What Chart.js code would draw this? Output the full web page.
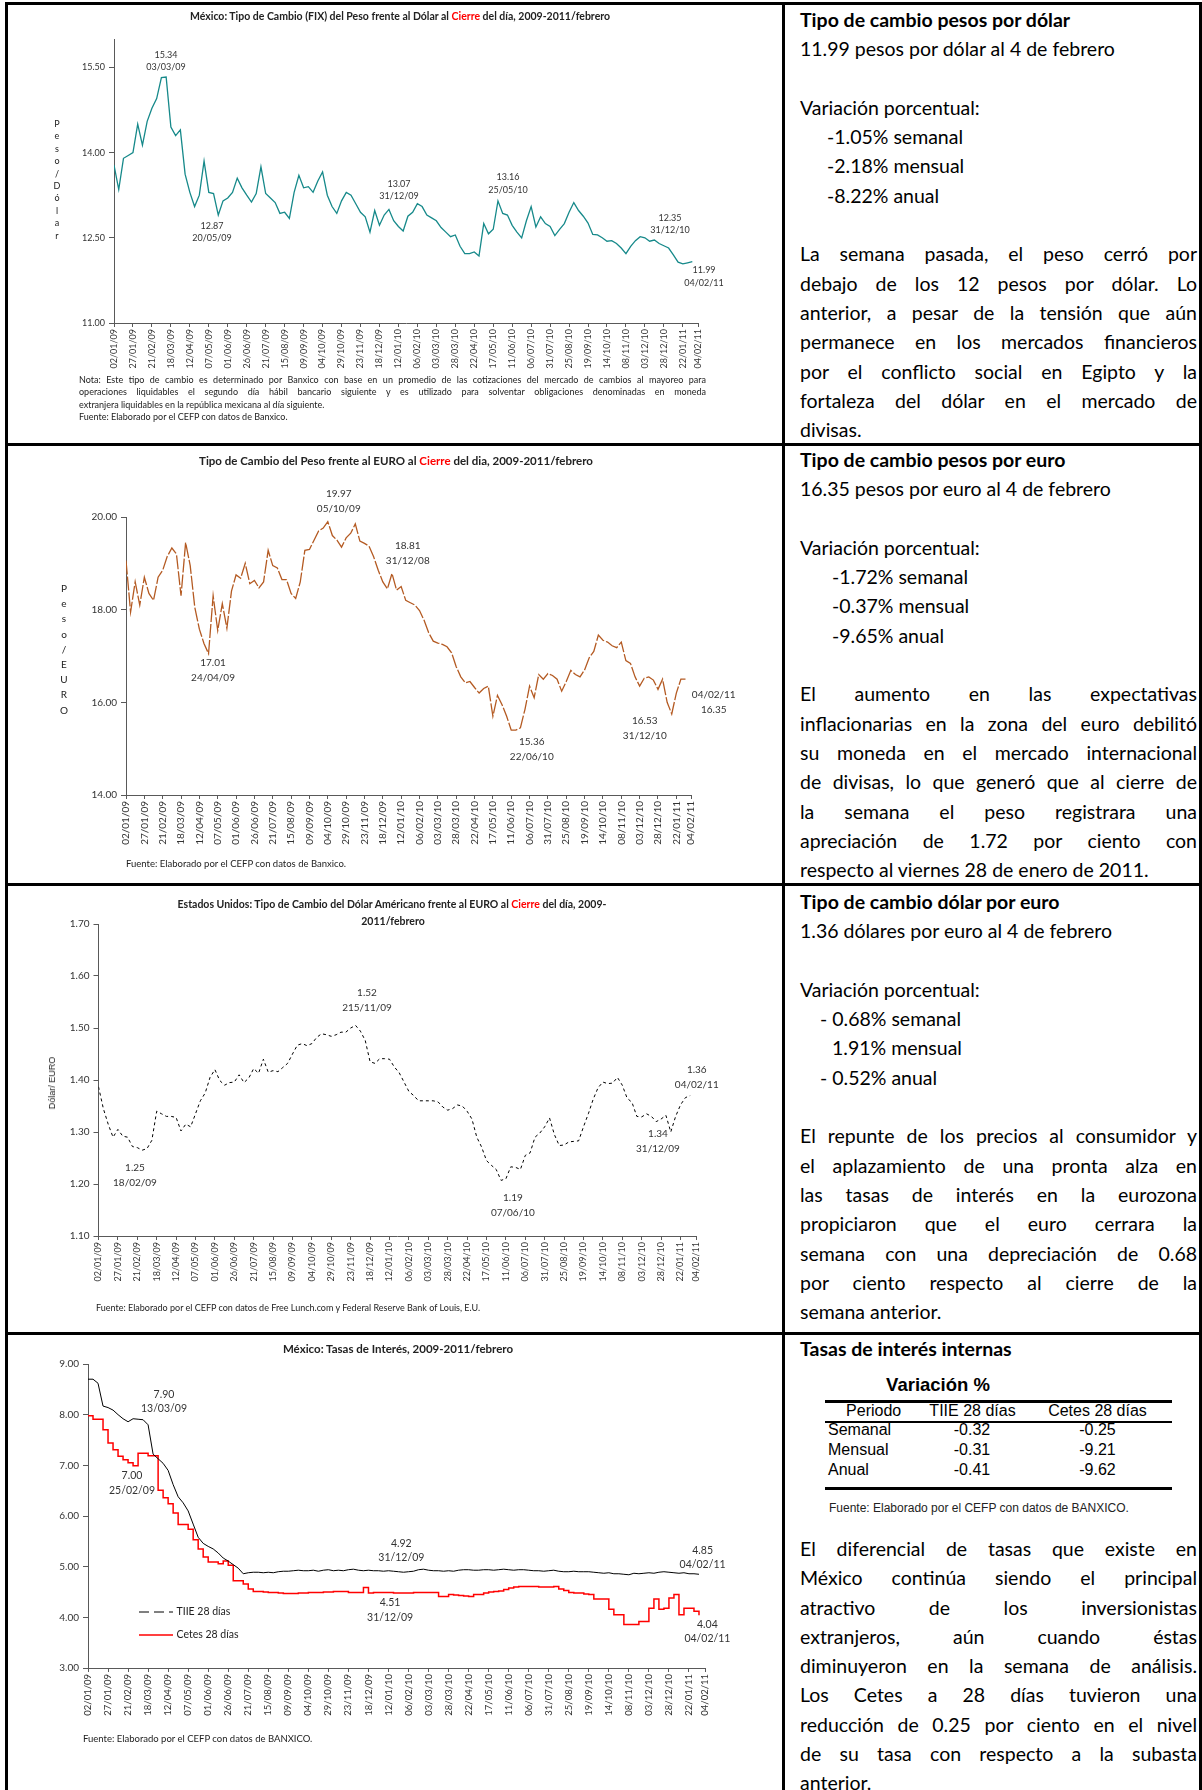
<!DOCTYPE html>
<html>
<head>
<meta charset="utf-8">
<script src="https://cdn.jsdelivr.net/npm/chart.js@4/dist/chart.umd.min.js"></script>
<style>
body { margin: 0; background: #fff; }
#page { position: relative; width: 1202px; height: 1790px; overflow: hidden; font-family: Lato, sans-serif; color: #000; }
.rule { position: absolute; background: #000; }
canvas { position: absolute; left: 8px; }
.c { position: absolute; transform: translate(-50%, -50%); white-space: nowrap; }
.l { position: absolute; transform: translateY(-50%); white-space: nowrap; }
.ttl { font-weight: bold; color: #222; }
.red { color: #f00; }
.small { color: #222; }
.stack { position: absolute; width: 20px; text-align: center; color: #222; }
.side { position: absolute; left: 800px; width: 397px; font-size: 19.5px; line-height: 29.3px; }
.j { text-align: justify; text-align-last: justify; }
.arial { font-family: "Liberation Sans", Arial, sans-serif; }
</style>
</head>
<body>
<div id="page">
  <!-- marco de la tabla -->
  <div class="rule" style="left:5px;top:2px;width:1197px;height:3px"></div>
  <div class="rule" style="left:5px;top:2px;width:3px;height:1788px"></div>
  <div class="rule" style="left:1199px;top:2px;width:3px;height:1788px"></div>
  <div class="rule" style="left:782px;top:2px;width:3px;height:1788px"></div>
  <div class="rule" style="left:5px;top:443px;width:1197px;height:3px"></div>
  <div class="rule" style="left:5px;top:883px;width:1197px;height:3px"></div>
  <div class="rule" style="left:5px;top:1332px;width:1197px;height:3px"></div>

  <!-- grafica 1 -->
  <canvas id="g1" width="774" height="437" style="top:6px"></canvas>
  <div class="c ttl" style="left:400px;top:16px;font-size:10.5px">México: Tipo de Cambio (FIX) del Peso frente al Dólar al <span class="red">Cierre</span> del día, 2009-2011/febrero</div>
  <div class="stack" style="left:47px;top:118px;font-size:9px;line-height:12.4px">P<br>e<br>s<br>o<br>/<br>D<br>ó<br>l<br>a<br>r</div>
  <div class="small" style="position:absolute;left:79px;top:374px;width:627px;font-size:9px;line-height:12.4px">
    <div class="j">Nota: Este tipo de cambio es determinado por Banxico con base en un promedio de las cotizaciones del mercado de cambios al mayoreo para</div>
    <div class="j">operaciones liquidables el segundo día hábil bancario siguiente y es utilizado para solventar obligaciones denominadas en moneda</div>
    <div>extranjera liquidables en la república mexicana al día siguiente.</div>
    <div>Fuente: Elaborado por el CEFP con datos de Banxico.</div>
  </div>

  <!-- grafica 2 -->
  <canvas id="g2" width="774" height="437" style="top:446px"></canvas>
  <div class="c ttl" style="left:396px;top:460px;font-size:11.5px">Tipo de Cambio del Peso frente al EURO al <span class="red">Cierre</span> del dia, 2009-2011/febrero</div>
  <div class="stack" style="left:54px;top:581px;font-size:10px;line-height:15.2px">P<br>e<br>s<br>o<br>/<br>E<br>U<br>R<br>O</div>
  <div class="l small" style="left:126px;top:863px;font-size:9.5px">Fuente: Elaborado por el CEFP con datos de Banxico.</div>

  <!-- grafica 3 -->
  <canvas id="g3" width="774" height="446" style="top:886px"></canvas>
  <div class="c ttl" style="left:392px;top:904px;font-size:10.5px">Estados Unidos: Tipo de Cambio del Dólar Américano frente al EURO al <span class="red">Cierre</span> del día, 2009-</div>
  <div class="c ttl" style="left:393px;top:921px;font-size:10.5px">2011/febrero</div>
  <div class="c arial small" style="left:52px;top:1083px;font-size:9px;transform:translate(-50%,-50%) rotate(-90deg)">Dólar/ EURO</div>
  <div class="l small" style="left:96px;top:1307px;font-size:9px">Fuente: Elaborado por el CEFP con datos de Free Lunch.com y Federal Reserve Bank of Louis, E.U.</div>

  <!-- grafica 4 -->
  <canvas id="g4" width="774" height="455" style="top:1335px"></canvas>
  <div class="c ttl" style="left:398px;top:1348px;font-size:11.5px">México: Tasas de Interés, 2009-2011/febrero</div>
  <div class="l small" style="left:83px;top:1738px;font-size:9.5px">Fuente: Elaborado por el CEFP con datos de BANXICO.</div>

  <!-- textos de la derecha -->
  <div class="side" style="top:5px">
    <div><b>Tipo de cambio pesos por dólar</b></div>
    <div>11.99 pesos por dólar al 4 de febrero</div>
    <div>&nbsp;</div>
    <div>Variación porcentual:</div>
    <div style="padding-left:27px">-1.05% semanal</div>
    <div style="padding-left:27px">-2.18% mensual</div>
    <div style="padding-left:27px">-8.22% anual</div>
    <div>&nbsp;</div>
    <div class="j">La semana pasada, el peso cerró por</div>
    <div class="j">debajo de los 12 pesos por dólar. Lo</div>
    <div class="j">anterior, a pesar de la tensión que aún</div>
    <div class="j">permanece en los mercados financieros</div>
    <div class="j">por el conflicto social en Egipto y la</div>
    <div class="j">fortaleza del dólar en el mercado de</div>
    <div>divisas.</div>
  </div>

  <div class="side" style="top:445px">
    <div><b>Tipo de cambio pesos por euro</b></div>
    <div>16.35 pesos por euro al 4 de febrero</div>
    <div>&nbsp;</div>
    <div>Variación porcentual:</div>
    <div style="padding-left:32px">-1.72% semanal</div>
    <div style="padding-left:32px">-0.37% mensual</div>
    <div style="padding-left:32px">-9.65% anual</div>
    <div>&nbsp;</div>
    <div class="j">El aumento en las expectativas</div>
    <div class="j">inflacionarias en la zona del euro debilitó</div>
    <div class="j">su moneda en el mercado internacional</div>
    <div class="j">de divisas, lo que generó que al cierre de</div>
    <div class="j">la semana el peso registrara una</div>
    <div class="j">apreciación de 1.72 por ciento con</div>
    <div>respecto al viernes 28 de enero de 2011.</div>
  </div>

  <div class="side" style="top:887px">
    <div><b>Tipo de cambio dólar por euro</b></div>
    <div>1.36 dólares por euro al 4 de febrero</div>
    <div>&nbsp;</div>
    <div>Variación porcentual:</div>
    <div style="padding-left:20px">- 0.68% semanal</div>
    <div style="padding-left:32px">1.91% mensual</div>
    <div style="padding-left:20px">- 0.52% anual</div>
    <div>&nbsp;</div>
    <div class="j">El repunte de los precios al consumidor y</div>
    <div class="j">el aplazamiento de una pronta alza en</div>
    <div class="j">las tasas de interés en la eurozona</div>
    <div class="j">propiciaron que el euro cerrara la</div>
    <div class="j">semana con una depreciación de 0.68</div>
    <div class="j">por ciento respecto al cierre de la</div>
    <div>semana anterior.</div>
  </div>

  <div class="side" style="top:1334px"><b>Tasas de interés internas</b></div>
  <div class="c arial" style="left:938px;top:1385px;font-size:18.5px;font-weight:bold">Variación %</div>
  <div class="rule" style="left:825px;top:1400px;width:347px;height:3px"></div>
  <div class="rule" style="left:825px;top:1421px;width:347px;height:2px"></div>
  <div class="rule" style="left:825px;top:1487px;width:347px;height:3px"></div>
  <div id="tabla"></div>
  <div class="l arial" style="left:829px;top:1508px;font-size:12px;color:#222">Fuente: Elaborado por el CEFP con datos de BANXICO.</div>
  <div class="side" style="top:1534px">
    <div class="j">El diferencial de tasas que existe en</div>
    <div class="j">México continúa siendo el principal</div>
    <div class="j">atractivo de los inversionistas</div>
    <div class="j">extranjeros, aún cuando éstas</div>
    <div class="j">diminuyeron en la semana de análisis.</div>
    <div class="j">Los Cetes a 28 días tuvieron una</div>
    <div class="j">reducción de 0.25 por ciento en el nivel</div>
    <div class="j">de su tasa con respecto a la subasta</div>
    <div>anterior.</div>
  </div>
</div>

<script>
// etiquetas del eje de fechas (cada 25 dias, mas el ultimo dato)
const tickLabels = ["02/01/09", "27/01/09", "21/02/09", "18/03/09", "12/04/09", "07/05/09",
	"01/06/09", "26/06/09", "21/07/09", "15/08/09", "09/09/09", "04/10/09", "29/10/09",
	"23/11/09", "18/12/09", "12/01/10", "06/02/10", "03/03/10", "28/03/10", "22/04/10",
	"17/05/10", "11/06/10", "06/07/10", "31/07/10", "25/08/10", "19/09/10", "14/10/10",
	"08/11/10", "03/12/10", "28/12/10", "22/01/11", "04/02/11"];
const axisEnd = 770; // el eje se alarga un poco mas alla del ultimo dato
const tickDays = tickLabels.map((l, i) => (i < 31 ? i * 25 : axisEnd));
const sampleStep = 6.25; // dias entre lecturas (aprox. semanal)

// Peso por dolar (FIX)
const pesoDolar = [13.78, 13.35, 13.9, 13.95, 14.0, 14.5, 14.13, 14.55, 14.78, 14.95,
	15.32, 15.33, 14.45, 14.3, 14.4, 13.62, 13.3, 13.05, 13.25, 13.85,
	13.3, 13.28, 12.9, 13.15, 13.2, 13.3, 13.55, 13.38, 13.25, 13.13,
	13.28, 13.75, 13.28, 13.2, 13.12, 12.93, 12.95, 12.84, 13.3, 13.6,
	13.38, 13.4, 13.3, 13.5, 13.66, 13.25, 13.05, 12.93, 13.15, 13.3,
	13.25, 13.1, 12.95, 12.87, 12.6, 12.98, 12.72, 12.9, 13.0, 12.8,
	12.7, 12.62, 12.88, 12.95, 13.1, 13.05, 12.9, 12.85, 12.8, 12.68,
	12.6, 12.52, 12.55, 12.35, 12.22, 12.22, 12.25, 12.18, 12.75, 12.57,
	12.65, 13.15, 12.93, 12.9, 12.72, 12.6, 12.5, 12.8, 13.05, 12.69,
	12.87, 12.75, 12.7, 12.54, 12.65, 12.75, 12.95, 13.12, 12.98, 12.88,
	12.76, 12.56, 12.55, 12.5, 12.44, 12.45, 12.4, 12.32, 12.22, 12.35,
	12.45, 12.52, 12.5, 12.44, 12.46, 12.4, 12.36, 12.32, 12.2, 12.07,
	12.04, 12.06, 12.08];

// Peso por euro
const pesoEuro = [19.06, 17.95, 18.6, 18.1, 18.7, 18.35, 18.2, 18.7, 18.85, 19.15,
	19.33, 19.2, 18.3, 19.45, 18.95, 18.05, 17.58, 17.27, 17.05, 18.3,
	17.55, 18.13, 17.6, 18.4, 18.75, 18.68, 19.0, 18.56, 18.63, 18.47,
	18.6, 19.28, 18.95, 18.9, 18.65, 18.65, 18.35, 18.24, 18.6, 19.28,
	19.3, 19.5, 19.7, 19.76, 19.9, 19.6, 19.5, 19.35, 19.55, 19.65,
	19.85, 19.48, 19.43, 19.37, 19.14, 18.85, 18.6, 18.45, 18.78, 18.42,
	18.5, 18.2, 18.15, 18.1, 17.98, 17.77, 17.5, 17.32, 17.28, 17.25,
	17.2, 17.07, 16.77, 16.55, 16.42, 16.45, 16.32, 16.2, 16.3, 16.35,
	15.7, 16.15, 15.95, 15.7, 15.4, 15.4, 15.45, 15.85, 16.35, 16.1,
	16.6, 16.5, 16.62, 16.58, 16.5, 16.24, 16.45, 16.69, 16.6, 16.55,
	16.7, 16.96, 17.1, 17.45, 17.34, 17.3, 17.22, 17.18, 17.3, 16.9,
	16.84, 16.55, 16.35, 16.52, 16.55, 16.48, 16.28, 16.5, 16.0, 15.75,
	16.2, 16.5, 16.5];

// Dolar por euro
const dolarEuro = [1.387, 1.345, 1.315, 1.29, 1.305, 1.292, 1.29, 1.272, 1.27, 1.265,
	1.268, 1.284, 1.34, 1.335, 1.33, 1.33, 1.328, 1.302, 1.315, 1.31,
	1.335, 1.36, 1.375, 1.405, 1.42, 1.399, 1.39, 1.395, 1.396, 1.41,
	1.395, 1.404, 1.422, 1.413, 1.44, 1.415, 1.418, 1.416, 1.424, 1.432,
	1.45, 1.467, 1.47, 1.466, 1.47, 1.482, 1.489, 1.487, 1.484, 1.487,
	1.492, 1.492, 1.5, 1.505, 1.494, 1.476, 1.435, 1.432, 1.441, 1.441,
	1.44, 1.425, 1.414, 1.396, 1.378, 1.37, 1.36, 1.36, 1.36, 1.36,
	1.358, 1.348, 1.342, 1.345, 1.352, 1.35, 1.34, 1.325, 1.29, 1.271,
	1.245, 1.236, 1.228, 1.207, 1.21, 1.233, 1.232, 1.228, 1.255, 1.26,
	1.29, 1.298, 1.31, 1.327, 1.295, 1.274, 1.275, 1.281, 1.282, 1.283,
	1.31, 1.335, 1.363, 1.385, 1.396, 1.393, 1.394, 1.405, 1.39, 1.365,
	1.357, 1.33, 1.329, 1.335, 1.33, 1.32, 1.325, 1.332, 1.3, 1.33,
	1.352, 1.366, 1.37];

// TIIE 28 dias
const tiie28 = [8.70, 8.70, 8.62, 8.17, 8.14, 8.09, 8.0, 7.92, 7.86, 7.92,
	7.91, 7.9, 7.8, 7.22, 7.13, 7.04, 6.9, 6.62, 6.38, 6.26,
	6.1, 5.84, 5.58, 5.46, 5.4, 5.35, 5.27, 5.17, 5.11, 5.04,
	4.97, 4.86, 4.88, 4.89, 4.89, 4.88, 4.89, 4.88, 4.9, 4.91,
	4.91, 4.92, 4.93, 4.92, 4.92, 4.93, 4.91, 4.93, 4.94, 4.92,
	4.93, 4.92, 4.94, 4.95, 4.93, 4.92, 4.93, 4.92, 4.92, 4.91,
	4.92, 4.91, 4.9, 4.89, 4.9, 4.91, 4.94, 4.95, 4.93, 4.92,
	4.92, 4.91, 4.92, 4.91, 4.93, 4.94, 4.94, 4.93, 4.93, 4.94,
	4.94, 4.93, 4.94, 4.95, 4.94, 4.93, 4.94, 4.94, 4.93, 4.92,
	4.92, 4.91, 4.92, 4.93, 4.91, 4.9, 4.9, 4.91, 4.9, 4.9,
	4.9, 4.89, 4.88, 4.87, 4.88, 4.86, 4.86, 4.85, 4.84, 4.87,
	4.86, 4.87, 4.88, 4.87, 4.89, 4.9, 4.89, 4.88, 4.87, 4.88,
	4.86, 4.86, 4.85];

// Cetes 28 dias
const cetes28 = [7.98, 7.91, 7.91, 7.7, 7.44, 7.31, 7.18, 7.11, 7.05, 6.99,
	7.24, 7.24, 7.19, 7.19, 6.51, 6.36, 6.24, 6.06, 5.83, 5.83,
	5.74, 5.53, 5.35, 5.19, 5.09, 5.09, 5.06, 5.11, 5.03, 4.72,
	4.72, 4.66, 4.56, 4.51, 4.51, 4.5, 4.49, 4.49, 4.48, 4.47,
	4.47, 4.47, 4.48, 4.48, 4.49, 4.49, 4.49, 4.5, 4.5, 4.51,
	4.51, 4.51, 4.49, 4.49, 4.49, 4.59, 4.48, 4.49, 4.49, 4.49,
	4.49, 4.48, 4.48, 4.48, 4.48, 4.49, 4.49, 4.49, 4.49, 4.49,
	4.41, 4.41, 4.45, 4.44, 4.43, 4.42, 4.41, 4.45, 4.45, 4.48,
	4.5, 4.51, 4.52, 4.55, 4.58, 4.6, 4.61, 4.61, 4.61, 4.61,
	4.6, 4.6, 4.6, 4.61, 4.56, 4.53, 4.49, 4.48, 4.48, 4.46,
	4.45, 4.36, 4.36, 4.36, 4.16, 4.05, 4.05, 3.86, 3.86, 3.86,
	3.92, 3.92, 4.18, 4.36, 4.16, 4.18, 4.38, 4.45, 4.05, 4.18,
	4.18, 4.12, 4.04];

// rotulos de datos: [dia, valor donde va el texto, linea 1, linea 2]
const notasDolar = [[68.6, 15.61, "15.34", "03/03/09"], [129.2, 12.6, "12.87", "20/05/09"],
	[375.8, 13.34, "13.07", "31/12/09"], [519.5, 13.45, "13.16", "25/05/10"],
	[733, 12.74, "12.35", "31/12/10"], [778, 11.82, "11.99", "04/02/11"]];
const notasEuro = [[290, 20.34, "19.97", "05/10/09"], [384, 19.22, "18.81", "31/12/08"],
	[118.6, 16.69, "17.01", "24/04/09"], [553, 14.99, "15.36", "22/06/10"],
	[707, 15.44, "16.53", "31/12/10"], [801, 16.0, "04/02/11", "16.35"]];
const notasDolarEuro = [[346, 1.553, "1.52", "215/11/09"], [47, 1.217, "1.25", "18/02/09"],
	[534, 1.159, "1.19", "07/06/10"], [721, 1.282, "1.34", "31/12/09"],
	[771, 1.405, "1.36", "04/02/11"]];
const notasTasas = [[94.8, 8.26, "7.90", "13/03/09"], [54.9, 6.65, "7.00", "25/02/09"],
	[391, 5.32, "4.92", "31/12/09"], [377, 4.14, "4.51", "31/12/09"],
	[767, 5.18, "4.85", "04/02/11"], [773, 3.72, "4.04", "04/02/11"]];

// tabla de variaciones
const periodos = ["Semanal", "Mensual", "Anual"];
const varTiie = ["-0.32", "-0.31", "-0.41"];
const varCetes = ["-0.25", "-9.21", "-9.62"];

function buildTable() {
	let html = "";
	const head = [["Periodo", 873.7], ["TIIE 28 días", 972.5], ["Cetes 28 días", 1097.5]];
	head.forEach(([t, x]) => {
		html += `<div class="c arial" style="left:${x}px;top:1411px;font-size:16px">${t}</div>`;
	});
	periodos.forEach((p, i) => {
		const y = 1430 + i * 20;
		html += `<div class="l arial" style="left:828px;top:${y}px;font-size:16px">${p}</div>`;
		html += `<div class="c arial" style="left:972px;top:${y}px;font-size:16px">${varTiie[i]}</div>`;
		html += `<div class="c arial" style="left:1097.5px;top:${y}px;font-size:16px">${varCetes[i]}</div>`;
	});
	document.getElementById("tabla").innerHTML = html;
}

function toPoints(values) {
	return values.map((v, i) => ({ x: i * sampleStep, y: v }));
}

// dibuja los rotulos de datos y la leyenda interna
function notasPlugin(notas, size, gap, leyenda) {
	return {
		id: "notas",
		afterDatasetsDraw(chart) {
			const { ctx, scales, chartArea } = chart;
			ctx.save();
			ctx.font = `${size}px Lato`;
			ctx.fillStyle = "#333";
			ctx.textAlign = "center";
			ctx.textBaseline = "middle";
			notas.forEach(([d, v, a, b]) => {
				const px = scales.x.getPixelForValue(d);
				const py = scales.y.getPixelForValue(v);
				ctx.fillText(a, px, py - gap / 2);
				ctx.fillText(b, px, py + gap / 2);
			});

			if (leyenda) {
				chart.data.datasets.forEach((ds, k) => {
					const y0 = chartArea.bottom - leyenda[k];
					ctx.strokeStyle = ds.borderColor;
					ctx.lineWidth = ds.borderWidth;
					ctx.setLineDash(k === 0 ? [10, 5] : []);
					ctx.beginPath();
					ctx.moveTo(chartArea.left + 51, y0);
					ctx.lineTo(chartArea.left + 85, y0);
					ctx.stroke();
					ctx.setLineDash([]);
					ctx.textAlign = "left";
					ctx.font = "10.5px Lato";
					ctx.fillStyle = "#222";
					ctx.fillText(ds.label, chartArea.left + 88.5, y0);
				});
			}
			ctx.restore();
		},
	};
}

function lineChart(id, cfg) {
	const axisColor = "#595959";
	return new Chart(document.getElementById(id), {
		type: "line",
		data: { datasets: cfg.datasets },
		options: {
			responsive: false,
			animation: false,
			layout: { padding: cfg.pad },
			elements: { point: { radius: 0 }, line: { tension: 0 } },
			plugins: { legend: { display: false }, tooltip: { enabled: false } },
			scales: {
				x: {
					type: "linear",
					min: 0,
					max: axisEnd,
					afterBuildTicks: (s) => {
						s.ticks = tickDays.map((v) => ({ value: v }));
					},
					afterFit: (s) => {
						s.height = 60;
						s.paddingLeft = 0;
						s.paddingRight = 0;
					},
					ticks: {
						autoSkip: false,
						minRotation: 90,
						maxRotation: 90,
						padding: 2,
						color: "#333",
						font: { family: "Lato", size: cfg.xFont },
						callback: (v, i) => tickLabels[i],
					},
					grid: { drawOnChartArea: false, tickLength: 4, color: axisColor },
					border: { color: axisColor },
				},
				y: {
					min: cfg.yMin,
					max: cfg.yMax,
					afterBuildTicks: (s) => {
						s.ticks = cfg.yTicks.map((v) => ({ value: v }));
					},
					afterFit: (s) => {
						s.width = 40;
						s.paddingTop = 0;
						s.paddingBottom = 0;
					},
					ticks: {
						padding: 4,
						color: "#333",
						font: { family: "Lato", size: cfg.yFont },
						callback: (v) => Number(v).toFixed(2),
					},
					grid: { drawOnChartArea: false, tickLength: 5, color: axisColor },
					border: { color: axisColor },
				},
			},
		},
		plugins: [notasPlugin(cfg.notas, cfg.noteSize, cfg.noteGap, cfg.leyenda)],
	});
}

buildTable();

lineChart("g1", {
	pad: { left: 66, right: 84, top: 33, bottom: 60 },
	yMin: 11, yMax: 16, yTicks: [11, 12.5, 14, 15.5], yFont: 9, xFont: 9,
	notas: notasDolar, noteSize: 9, noteGap: 12.5,
	datasets: [{ label: "Peso/Dólar", data: toPoints(pesoDolar), borderColor: "#16898a", borderWidth: 1.3 }],
});

lineChart("g2", {
	pad: { left: 78, right: 91, top: 71, bottom: 28 },
	yMin: 14, yMax: 20, yTicks: [14, 16, 18, 20], yFont: 10, xFont: 10,
	notas: notasEuro, noteSize: 10, noteGap: 15,
	datasets: [{ label: "Peso/EURO", data: toPoints(pesoEuro), borderColor: "#b45a22", borderWidth: 1.3, borderDash: [14, 2] }],
});

lineChart("g3", {
	pad: { left: 50.5, right: 86, top: 38, bottom: 36 },
	yMin: 1.1, yMax: 1.7, yTicks: [1.1, 1.2, 1.3, 1.4, 1.5, 1.6, 1.7], yFont: 10, xFont: 9,
	notas: notasDolarEuro, noteSize: 10, noteGap: 14.5,
	datasets: [{ label: "Dólar/EURO", data: toPoints(dolarEuro), borderColor: "#000", borderWidth: 1, borderDash: [3, 3] }],
});

lineChart("g4", {
	pad: { left: 40, right: 77, top: 29, bottom: 62 },
	yMin: 3, yMax: 9, yTicks: [3, 4, 5, 6, 7, 8, 9], yFont: 10, xFont: 9.5,
	notas: notasTasas, noteSize: 10.5, noteGap: 14.5, leyenda: [56, 33],
	datasets: [
		{ label: "TIIE 28 días", data: toPoints(tiie28), borderColor: "#000", borderWidth: 1 },
		{ label: "Cetes 28 días", data: toPoints(cetes28), borderColor: "#ff0000", borderWidth: 1.5, stepped: true },
	],
});
</script>
</body>
</html>
